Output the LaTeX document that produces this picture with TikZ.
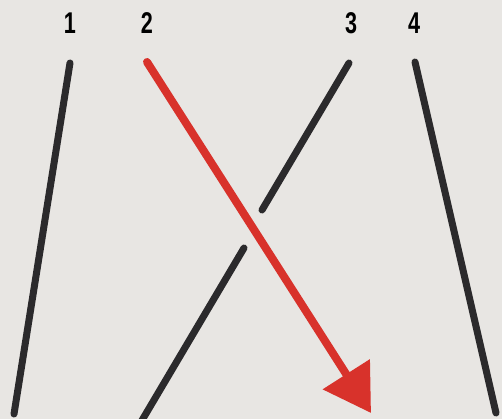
\documentclass[tikz,border=0pt]{standalone}
\usepackage{fontspec}
\setmainfont{Liberation Sans}
\usetikzlibrary{arrows.meta}
\definecolor{paper}{HTML}{E8E6E3}
\definecolor{ink}{HTML}{2B2A2C}
\definecolor{pathred}{HTML}{D8322B}

\begin{document}
\begin{tikzpicture}[x=1pt, y=-1pt, num/.style={font=\bfseries\fontsize{30}{30}\selectfont, xscale=0.72, inner sep=0pt}, strand/.style={draw=ink, line width=7pt, line cap=round}, swap/.style={draw=pathred, line width=8pt, line cap=round, -{Triangle[length=46pt,width=54pt]}}]
\fill[paper] (0,0) rectangle (502,419);
\useasboundingbox (0,0) rectangle (502,419);
\node[num] (n1) at (70,23) {1};
\node[num] (n2) at (147,23) {2};
\node[num] (n3) at (351,23) {3};
\node[num] (n4) at (414,23) {4};
\coordinate (a1) at (70,63); \coordinate (b1) at (14,414);
\coordinate (a2) at (147,62); \coordinate (b2) at (371,413);
\coordinate (a3) at (349,63); \coordinate (g3) at (262,210); \coordinate (h3) at (244,248); \coordinate (b3) at (141,422);
\coordinate (a4) at (415,62); \coordinate (b4) at (496,413);
\draw[strand] (a1)--(b1); \draw[strand] (a3)--(g3); \draw[strand] (h3)--(b3); \draw[strand] (a4)--(b4);
\draw[swap] (a2)--(b2);
\end{tikzpicture}
\end{document}
